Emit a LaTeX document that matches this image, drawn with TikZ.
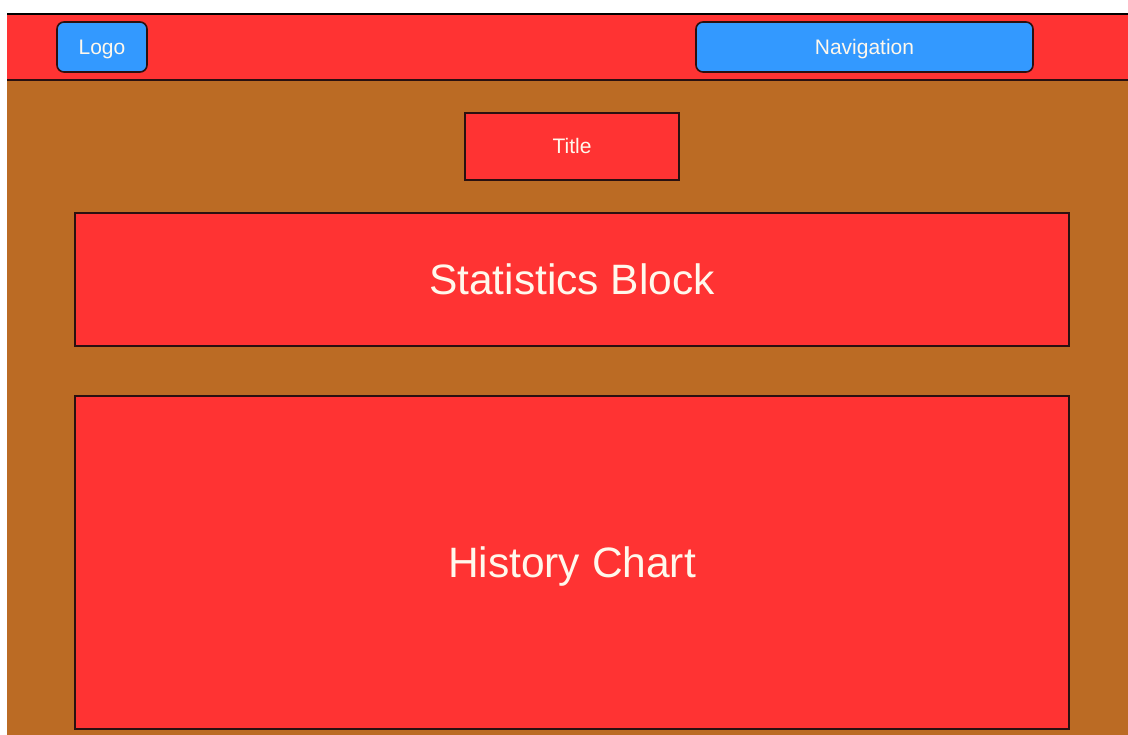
\documentclass[tikz,border=0pt]{standalone}
\usepackage{fontspec}
\setmainfont{Liberation Sans}
\definecolor{hdrred}{HTML}{FF3333}
\definecolor{btnblue}{HTML}{3399FF}
\definecolor{bgbrown}{HTML}{BB6B24}
\definecolor{edge}{HTML}{2A1010}
\definecolor{txt}{HTML}{FFF8EC}
\begin{document}
\begin{tikzpicture}[x=1pt,y=-1pt,
  box/.style={draw=edge,line width=1.6pt,fill=hdrred,text=txt,inner sep=0pt},
  btn/.style={draw=edge,line width=1.6pt,fill=btnblue,text=txt,rounded corners=7pt,inner sep=0pt},
  small/.style={font=\fontsize{21}{24}\selectfont,text height=15pt,text depth=0pt},
  big/.style={font=\fontsize{42.5}{48}\selectfont,text height=30.4pt,text depth=0pt}]
\useasboundingbox (0,0) rectangle (1128,735);
\fill[white] (0,0) rectangle (1128,735);
% page background
\fill[bgbrown] (7,80) rectangle (1128,735);
% header bar
\fill[hdrred] (7,14) rectangle (1128,80);
\draw[black,line width=1.6pt] (7,14) -- (1128,14);
\draw[edge,line width=1.6pt] (7,80) -- (1128,80);
% header buttons
\node[btn,small,minimum width=90pt,minimum height=50pt] (logo) at (102,47) {Logo};
\node[btn,small,minimum width=337pt,minimum height=50pt] (nav) at (864.5,47) {Navigation};
% content blocks
\node[box,small,minimum width=214pt,minimum height=67pt] (title) at (572,146.5) {Title};
\node[box,big,minimum width=994pt,minimum height=133pt] (stats) at (572,279.5) {Statistics Block};
\node[box,big,minimum width=994pt,minimum height=333pt] (hist) at (572,562.5) {History Chart};
\end{tikzpicture}
\end{document}
